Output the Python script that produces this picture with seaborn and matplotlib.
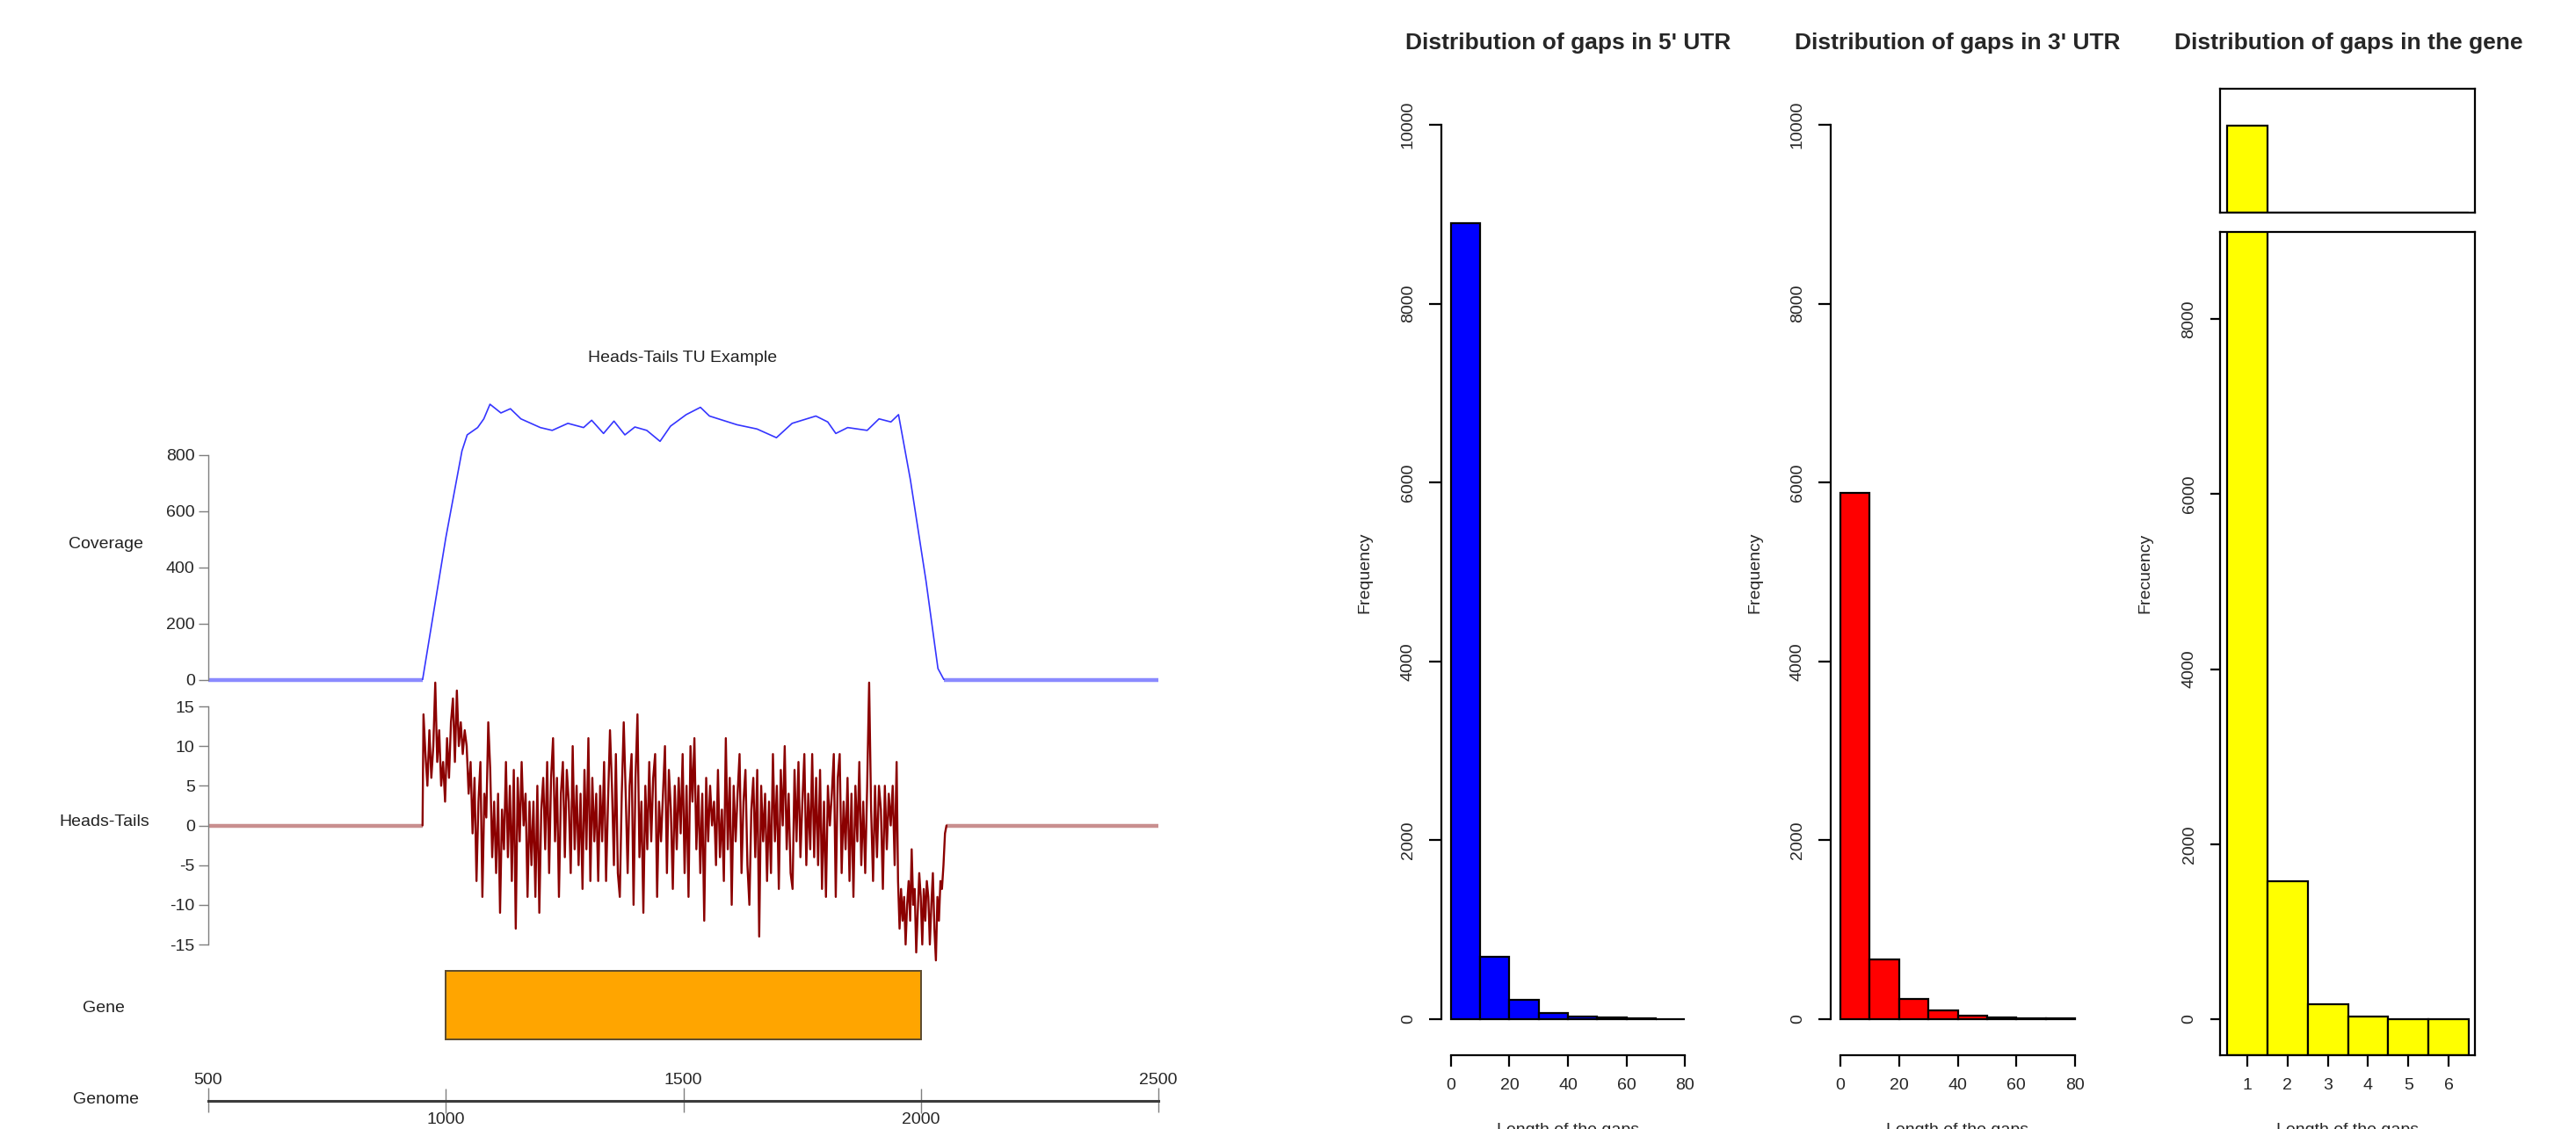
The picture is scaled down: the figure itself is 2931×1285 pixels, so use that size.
import numpy as np
import pandas as pd
import matplotlib
matplotlib.use("Agg")
import matplotlib.pyplot as plt
import seaborn as sns

# ---------------- data ----------------
genome_range = [500, 2500]
genome_ticks_top = [500, 1500, 2500]
genome_ticks_bottom = [1000, 2000]

cov_pos = [951, 1000, 1034, 1045, 1067, 1080, 1093, 1116, 1136, 1158, 1199, 1224,
           1257, 1290, 1307, 1332, 1354, 1377, 1398, 1423, 1451, 1473, 1506, 1536,
           1555, 1613, 1655, 1696, 1729, 1779, 1804, 1821, 1846, 1887, 1912, 1937,
           1953, 1978, 2011, 2036, 2049]
cov_val = [0, 506, 815, 872, 898, 929, 981, 950, 965, 929, 898, 888,
           913, 898, 924, 877, 921, 872, 900, 888, 849, 903, 944, 970,
           939, 908, 893, 862, 913, 939, 918, 877, 898, 888, 929, 918,
           944, 712, 351, 41, 0]
cov_ticks = [0, 200, 400, 600, 800]

# Heads-Tails signal, main body (approx. 953 .. 1949)
ht_main = [14, 9, 5, 12, 6, 10, 18, 8, 12, 5,
           8, 3, 11, 6, 13, 16, 8, 17, 10, 13, 9, 12,
           10, 4, 8, -1, 6, -7, 3, 8, -9, 4,
           1, 13, 7, -4, 3, -6, 4, -11, 2, -3,
           8, -4, 5, -7, 7, -13, 6, -2, 8, 0,
           4, -9, 3, -5, 3, -9, 5, -11, 2, 6,
           -3, 8, -6, 6, 11, -2, 6, -9, 4, 8,
           -4, 7, 3, -6, 10, -3, 5, -5, 4, -8,
           7, -3, 11, -7, 6, -2, 4, -7, 5, -2,
           8, -7, 3, 12, 5, -5, 9, -6, -9, 4,
           13, 4, -6, 5, 9, -10, 6, 14, -4, 3,
           -11, 5, -3, 8, -2, 6, 9, -9, 3, -2,
           4, 10, -6, 7, 2, -8, 5, -3, 6, -1,
           9, -6, 5, -9, 10, 3,
           11, -3, 5, -6, 4, -12, 6, -2, 5, 0,
           3, -5, 7, -4, 2, -7, 11, -3, 6, -10,
           5, -2, 4, 9, -6, 3, 7, -5, -10, 2,
           6, -4, 7, -14, 5, -2, 4, -7, 3, -6,
           9, -2, 5, -8, 7, 0, 10, -3, 4, -6,
           -8, 7, -2, 8, -4, 3, 9, -5, 4, -3,
           9, -4, 6, -5, 7, -8, 3, -9, 5, 0,
           4, 9, -9, 6, 9, -6, 3, -3, 6, -7,
           4, -9, 5, -2, 8, -5, 3, -6, 5, 18,
           2, -7, 5, -4, 5, 2, -8, 5, -3, 4, 0, 5, -5, 8]
ht_main_span = [953, 1949]
# Heads-Tails signal, 3' end (approx. 1952 .. 2054)
ht_tail = [-7, -13, -8, -12, -9, -15, -10, -7, -12, -3, -10, -8, -16, -11, -6,
           -9, -15, -8, -12, -7, -9, -15, -10, -6, -13, -17, -9, -12, -7, -8,
           -5, -1, 0]
ht_tail_span = [1952, 2054]
ht_ticks = [-15, -10, -5, 0, 5, 10, 15]

gene_start = [1000]
gene_end = [2000]

utr_edges = [0, 10, 20, 30, 40, 50, 60, 70, 80]
utr5_counts = [8900, 700, 220, 65, 30, 15, 8, 4]
utr3_counts = [5880, 665, 225, 100, 35, 18, 10, 5]
utr_xticks = [0, 20, 40, 60, 80]
utr_yticks = [0, 2000, 4000, 6000, 8000, 10000]

gene_lengths = [1, 2, 3, 4, 5, 6]
gene_counts = [11100, 1580, 175, 30, 5, 3]
gene_yticks = [0, 2000, 4000, 6000, 8000]

titles = ["Distribution of gaps in 5' UTR", "Distribution of gaps in 3' UTR",
          "Distribution of gaps in the gene"]
ylabels = ["Frequency", "Frequency", "Frecuency"]
xlabel = "Length of the gaps"

# ---------------- figure ----------------
sns.set_style("white")
plt.rcParams["font.family"] = ["Liberation Sans", "DejaVu Sans"]
plt.rcParams["axes.unicode_minus"] = False

W, H = 2931, 1285
fig = plt.figure(figsize=(W / 100, H / 100), dpi=100)


def box(x0, y0, x1, y1):
    return [x0 / W, 1 - y1 / H, (x1 - x0) / W, (y1 - y0) / H]


def ftext(x, y, s, **kw):
    fig.text(x / W, 1 - y / H, s, **kw)


FS = 14
GRAY = "#7f7f7f"

# ---- coverage ----
ax_cov = fig.add_axes(box(237, 440, 1318, 774))
ax_cov.set_xlim(*genome_range)
ax_cov.set_ylim(0, 1043.75)
flat_cov = pd.DataFrame({"x": [genome_range[0], cov_pos[0], np.nan, cov_pos[-1], genome_range[1]],
                         "y": [0, 0, np.nan, 0, 0]})
ax_cov.plot(flat_cov["x"], flat_cov["y"], color="#8a8aff", lw=3.2, clip_on=False,
            solid_capstyle="butt")
sns.lineplot(x=cov_pos, y=cov_val, ax=ax_cov, color="#3535ff", lw=1.2,
             estimator=None, sort=False)
for s in ["top", "right", "bottom"]:
    ax_cov.spines[s].set_visible(False)
ax_cov.spines["left"].set_bounds(0, 800)
ax_cov.spines["left"].set_color(GRAY)
ax_cov.spines["left"].set_linewidth(1.0)
ax_cov.set_yticks(cov_ticks)
ax_cov.set_yticklabels([str(v) for v in cov_ticks])
ax_cov.tick_params(axis="y", left=True, length=8, width=1, color=GRAY, labelsize=FS, pad=3)
ax_cov.set_xticks([])
ax_cov.set_xlabel("")
ax_cov.set_ylabel("")
ax_cov.patch.set_alpha(0)

# ---- heads-tails ----
ax_ht = fig.add_axes(box(237, 776, 1318, 1095))
ax_ht.set_xlim(*genome_range)
ax_ht.set_ylim(-17.21, 18.10)
ht_x = list(np.linspace(ht_main_span[0], ht_main_span[1], len(ht_main))) + \
       list(np.linspace(ht_tail_span[0], ht_tail_span[1], len(ht_tail)))
ht_y = ht_main + ht_tail
ax_ht.plot([genome_range[0], ht_main_span[0] - 2], [0, 0], color="#c98f8f", lw=3.2,
           solid_capstyle="butt", clip_on=False)
ax_ht.plot([ht_tail_span[1], genome_range[1]], [0, 0], color="#c98f8f", lw=3.2,
           solid_capstyle="butt", clip_on=False)
sns.lineplot(x=[ht_main_span[0] - 2] + ht_x, y=[0] + ht_y, ax=ax_ht, color="#8b0000",
             lw=1.7, estimator=None, sort=False)
for line in ax_ht.lines:
    line.set_clip_on(False)
for s in ["top", "right", "bottom"]:
    ax_ht.spines[s].set_visible(False)
ax_ht.spines["left"].set_bounds(-15, 15)
ax_ht.spines["left"].set_color(GRAY)
ax_ht.spines["left"].set_linewidth(1.0)
ax_ht.set_yticks(ht_ticks)
ax_ht.set_yticklabels([str(v) for v in ht_ticks])
ax_ht.tick_params(axis="y", left=True, length=8, width=1, color=GRAY, labelsize=FS, pad=3)
ax_ht.set_xticks([])
ax_ht.set_xlabel("")
ax_ht.set_ylabel("")
ax_ht.patch.set_alpha(0)

# ---- gene ----
ax_gene = fig.add_axes(box(237, 1105, 1318, 1183))
ax_gene.set_xlim(*genome_range)
ax_gene.set_ylim(-0.5, 0.5)
ax_gene.barh([0], [e - s for s, e in zip(gene_start, gene_end)], left=gene_start, height=1,
             color="#ffa500", edgecolor="#5b4a2e", linewidth=1.4, clip_on=False)
ax_gene.axis("off")

# ---- genome axis ----
ax_g = fig.add_axes(box(237, 1251.5, 1318, 1252.5))
ax_g.set_xlim(*genome_range)
ax_g.set_ylim(0, 1)
for s in ["left", "right", "top"]:
    ax_g.spines[s].set_visible(False)
ax_g.spines["bottom"].set_color("#3c3c3c")
ax_g.spines["bottom"].set_linewidth(2.2)
ax_g.set_yticks([])
ax_g.set_xticks(genome_ticks_top)
ax_g.set_xticklabels([str(v) for v in genome_ticks_top])
ax_g.set_xticks(genome_ticks_bottom, minor=True)
ax_g.set_xticklabels([str(v) for v in genome_ticks_bottom], minor=True)
ax_g.tick_params(axis="x", which="major", top=True, bottom=False, labeltop=True,
                 labelbottom=False, direction="inout", length=20, width=1,
                 color=GRAY, labelsize=FS, pad=0)
ax_g.tick_params(axis="x", which="minor", top=False, bottom=True, labeltop=False,
                 labelbottom=True, direction="inout", length=20, width=1,
                 color=GRAY, labelsize=FS, pad=0)
ax_g.patch.set_alpha(0)

# left-panel labels
ftext(777, 408, "Heads-Tails TU Example", fontsize=FS, ha="center", va="center", color="#222222")
ftext(120, 619, "Coverage", fontsize=FS, ha="center", va="center", color="#222222")
ftext(119, 936, "Heads-Tails", fontsize=FS, ha="center", va="center", color="#222222")
ftext(118, 1147, "Gene", fontsize=FS, ha="center", va="center", color="#222222")
ftext(120, 1252, "Genome", fontsize=FS, ha="center", va="center", color="#222222")

# ---------------- histograms ----------------
centers = [(a + b) / 2 for a, b in zip(utr_edges[:-1], utr_edges[1:])]


def utr_panel(x_left, x_right, counts, color, xlim):
    ax = fig.add_axes(box(x_left, 130, x_right, 1201))
    sns.histplot(x=centers, weights=counts, bins=utr_edges, color=color, alpha=1,
                 edgecolor="black", linewidth=1.6, ax=ax)
    ax.set_xlim(*xlim)
    ax.set_ylim(-402.8, 10118)
    for s in ["top", "right"]:
        ax.spines[s].set_visible(False)
    ax.spines["left"].set_position(("data", -3.3))
    ax.spines["left"].set_bounds(0, 10000)
    ax.spines["bottom"].set_bounds(0, 80)
    for s in ["left", "bottom"]:
        ax.spines[s].set_color("black")
        ax.spines[s].set_linewidth(1.6)
    ax.set_xticks(utr_xticks)
    ax.set_xticklabels([str(v) for v in utr_xticks])
    ax.set_yticks(utr_yticks)
    ax.set_yticklabels([str(v) for v in utr_yticks], rotation=90, va="center")
    ax.tick_params(axis="x", bottom=True, length=9, width=1.6, color="black",
                   labelsize=FS, pad=10)
    ax.tick_params(axis="y", left=True, length=10, width=1.6, color="black",
                   labelsize=FS, pad=11)
    ax.set_xlabel("")
    ax.set_ylabel("")
    ax.patch.set_alpha(0)
    return ax


utr_panel(1630, 1935, utr5_counts, "#0000ff", (-6.3, 85.4))
utr_panel(2073, 2380, utr3_counts, "#ff0000", (-6.3, 85.7))

# gene gaps, broken axis
base_low = -411.5
ax3 = fig.add_axes(box(2526, 264, 2816, 1201))
ax3.bar(gene_lengths, [c - base_low for c in gene_counts], bottom=base_low, width=1.0,
        color="#ffff00", edgecolor="black", linewidth=1.6)
ax3.set_xlim(0.323, 6.655)
ax3.set_ylim(base_low, 8994)
for s in ax3.spines.values():
    s.set_visible(True)
    s.set_color("black")
    s.set_linewidth(1.6)
ax3.set_xticks(gene_lengths)
ax3.set_xticklabels([str(v) for v in gene_lengths])
ax3.set_yticks(gene_yticks)
ax3.set_yticklabels([str(v) for v in gene_yticks], rotation=90, va="center")
ax3.tick_params(axis="x", bottom=True, length=9, width=1.6, color="black",
                labelsize=FS, pad=10)
ax3.tick_params(axis="y", left=True, length=8, width=1.6, color="black",
                labelsize=FS, pad=11)

base_up = 9000
ax3u = fig.add_axes(box(2526, 101, 2816, 242))
ax3u.bar(gene_lengths, [max(c - base_up, 0) for c in gene_counts], bottom=base_up, width=1.0,
         color="#ffff00", edgecolor="black", linewidth=1.6)
ax3u.set_xlim(0.323, 6.655)
ax3u.set_ylim(base_up, 12000)
for s in ax3u.spines.values():
    s.set_visible(True)
    s.set_color("black")
    s.set_linewidth(1.6)
ax3u.set_xticks([])
ax3u.set_yticks([])

# titles and labels
title_x = [1784, 2227, 2672]
for tx, t in zip(title_x, titles):
    ftext(tx, 49, t, fontsize=19, fontweight="bold", ha="center", va="center")
ylabel_x = [1553, 1997, 2441]
for lx, t in zip(ylabel_x, ylabels):
    ftext(lx, 652, t, fontsize=FS, rotation=90, ha="center", va="center")
# axis titles sit at the bottom edge of the canvas, partly cropped as in the original
xlabel_x = [1784, 2227, 2671]
for lx in xlabel_x:
    ftext(lx, 1278, xlabel, fontsize=FS, ha="center", va="top")

fig.savefig("out.png", dpi=100)
